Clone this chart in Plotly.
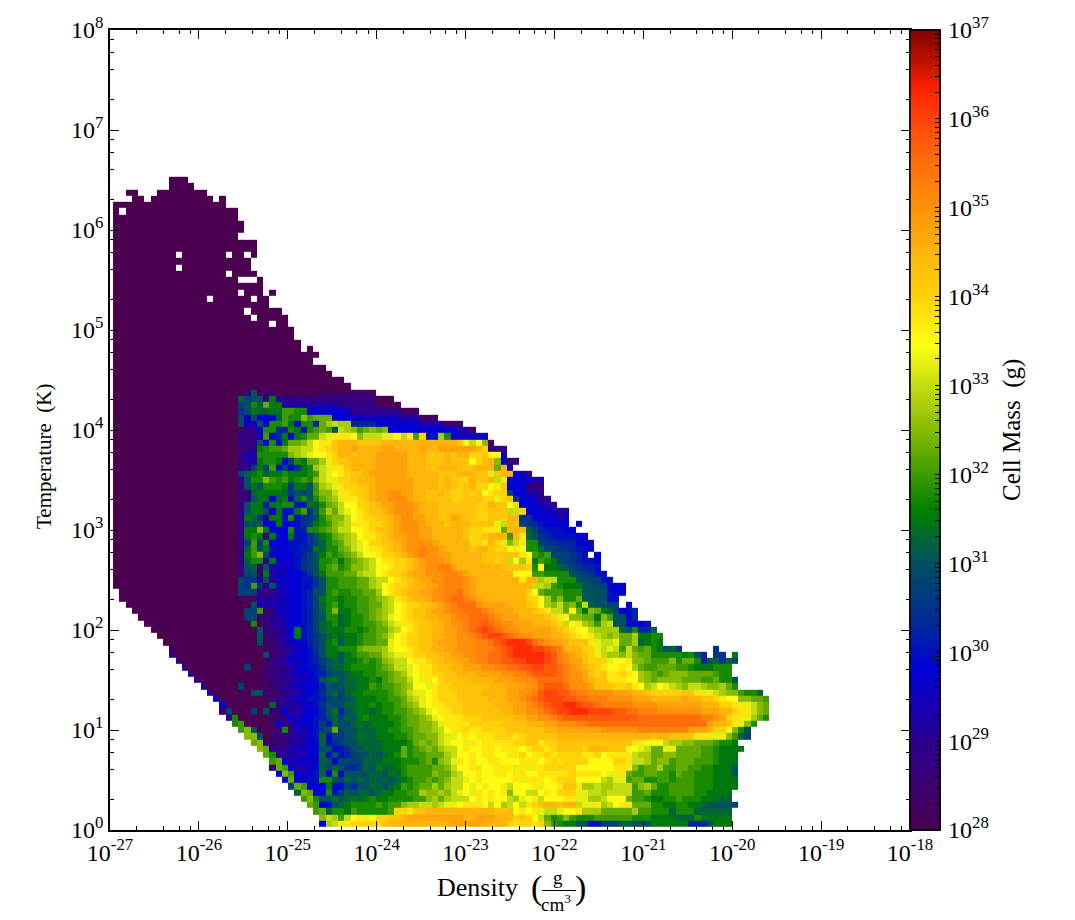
import numpy as np
import plotly.graph_objects as go

# Level code: one character per cell, base 36, each step = 0.25 dex above 1e28 g. '.' = empty bin.
LEVEL_CHARS = "0123456789abcdefghijklmnopqrstuvwxyz"
LEVEL_BASE = 28.0
LEVEL_STEP = 0.25

# rows are listed from the top of the populated area (row index t) downward
# upper rows: only the darkest level, given as inclusive column spans
UPPER_SPANS = [
    "9-11", "9-12", "2-3,7-14", "3-4,6-15,17", "0-17", "0,2-19", "0-19", "0-20", "0-20", "0-19",
    "0-22", "0-22", "0-9,11-17,19-20,22", "0-21", "0-9,11-21", "0-17,19-22", "0-19,23", "0-23",
    "0-19,21-23,25", "0-14,16-21,23-24", "0-24", "0-20,22-26", "0-21,23-27", "0-24,26-27",
    "0-28", "0-28", "0-29", "0-29,31", "0-32", "0-31", "0-33", "0-34", "0-36", "0-37",
]

# lower rows: first populated column of each row (rows 34..103), darkest level up to column 20
LOWER_START = [0]*32 + [1, 1, 2, 3, 4, 5, 6, 7, 8, 9, 9, 10, 11, 12, 13, 14, 15, 16, 17, 17, 18, 19] + [20]*16

# lower rows: levels from column 20 onward, in blocks of ten columns
LOWER_ROWS = [
    "02c0220000 1001111112 11",
    "dbcc3e4443 3333333333 33000",
    "bcfdhee555 5555553333 330000",
    "aceddeeggf f777777644 444444111",
    "b6c777dgff ighhh77766 6666665551 11",
    "c66c7ffge8 ff9hjkjj99 9977777775 555111",
    "2347ff99fe 8fghgckjig hihi777777 77777551",
    "3336g89e7e fhhklnnnmi kkkllmkngo 88jf766666",
    "333c7f8ehh ikmnnpqqqp pppqqqqqqq qqqqqpmkmi 2",
    "223efgghjj kkmnopqqrq qqqrrqqqqr qqrrrrrrqo 333",
    "365fffffij klmmnoqqpq qqrrrrrqqq pppqpqqoop mm7",
    "355effe7bf ehhjloppqq qqrrrrrqqq pppqpppmop qi722",
    "33bebg8b8a efjklnnpqq qqrrrrrqqq ppqqqpppqq qhq6",
    "bdefdeefee efgklmnopp qrrrrrrqqq qqpppqqqpp lpqq763",
    "3cffigfgef gfiklloopq qqrrrrrrqq qqpqpooqpp qkl877755",
    "3cecfffeae ecgjklnoop pqrrrrrrqq qqpqpopqoo mnp777333",
    "33deeeedac bcgiiknnoo pqrrssrrqq ppqpoopopm noob77553",
    "23cee7de8d fcfhijlnno pqrrsssrqq ppppoopppo olopa77644",
    "3cee8eeff8 8edfhikmmo opqrrsssrq qqppppppoo qppmo77765 4",
    "3ceec6e88e gadgjhklmn oppqrsssrq qqppppppoo pppkko7776 654",
    "4eda4ee8f8 aacfhiikmn ooppqrssrr qqpprqppoo ppoqqaa777 747",
    "3ccd77e778 abefgijknn noopqrsssr qqqpqqqppp plkqpba987 777.7",
    "3eeie777f8 9ffghikkmm noppqrsssr rqqqqqpoon nnhqqqdb98 8877",
    "3efe3e77e8 8acefhijkm nnopqrrssr rqqqqqpoop qqqgqndca9 888876",
    "3bgbf77788 8abdfghjkl mooppqrsss srqqqqqoon qoliknffba a999766",
    "3dgce87788 99edffhikl mnnopqrsst ssrqqqqpqq poomnmffdb baa9887",
    "3egic67778 9bcegfghik mmnoopqrst ssrrqqqqqp pppppnmgfg bbba98.7",
    "3dff4e6768 abcffgeghi jkmnnoopqr sssrqqqqqp popkmjnegf ebba9887",
    "3cd2c56678 abcfghfgii jkmmnoopqr ssttrqqqqq qqppppofme edcba998",
    "1bc2e56677 8aceggghhj kkmnoopqrr sssttsrqqq qqqqmmmggf fffcbba88",
    "baa4c46777 88acffgggh hjkkmnopqr rsstttsrqq qqqqqnqqjk kfffccbb88",
    "baga4c6677 88acffgggh hjkmnoopqq rrstttsrqq qqqqqqqkkj gfeeeccbb7 77",
    "bbb3345677 89ccfgffgg hhjmnopqqr rssttusrqq qqqqqqomhg ggfffcccc8 77",
    "1115556677 89beffeffg ghijknopqq rsstuutsrq qqqqqqoomj giffhdccc8 8",
    "00c5556677 89bdfgeffg ghhjkmnoop pqrstuuusr rrrqqqpomj ikhifkdccb b.7",
    "0bbg336677 89bdfieefg ghijkmnopp qrrsttuuut srrrqqqpon kkhmheihed b789",
    "0bb2345677 89bcffdeff ghijlmnopp qqrrsttuuu tsrrrqqqqp onmiihheig cc79",
    "00f1245577 89bdefdeff gghiklnnop pqqrsstuuv utssrrrqqq pokmnjigjk cc8778",
    "000c23457e 89bdeeeffe fghhjkmnop pqqrrstuvw vutssrrrrr qponmmkjjj jdcf99d",
    "000c23457e 89acdedeef gghikmnoop pqqrrsstuv wwvutssrrr qqponmnkji jhhjeeff",
    "000c124567 79acefceef gghhlmnoop pqrrrssstt uvwxxxwuts rrqpppnlkk lhhjdefe",
    "0000123456 78aceefffh iiijlmmnop pqqrrssstt tuvwxxxwwv utqqqoolkl kgkhghfecd a.....a",
    "0000c23457 789ceecefg ghhjkllnoo ppqqrrsstt uuvwxxxxxw vtsrqponkj jikihhffff fefc9.aa.e",
    "0000134576 789bcdceef gfgijkkmnn oppqqrrstt uuvvwwxxxw vtsrrpoool mmniihgggi fhhf9cdadb",
    "0b00233456 788acddeff ffghikklmn noppqqrrrs sttuuvvwwv vutsrqponm mnmjhgghhh ggfeeefff",
    "0000233456 6789bccdee ffgghijlmn nooppqqqrr rrssttuvvv vutssrpopn nonmjihghi iihhhhgff",
    "0000223446 678cdecdde efeghiikml nmoppppqqq qrrrssstuu uutssrqppn nnmmjihiii ihhhgghffc",
    "b001023456 7779cbcdde egfgghijmm lnoopppppp qqqrrrssuv vvusssrppp oopnmjkmlk jikkjiijhf",
    "00cc312445 678acdbdee ffffghikll mnoooppppq qqqrrsstvw wvvuttssss rrrqqpoooo oppnlnkjii gffd",
    "1000123456 7889bcbcde eeffgghjkl mnoooppppp qqqrrstuvw wwvvuuttts sssrrrqqqq qrqqpponmm iihhg",
    "00000d3455 678acbcdde efeffghijl mnnooopppp pqqqrrstuv wwxxwvvutt tttssssrrr rrrrqqqoon nlkih",
    "00b0c23745 6779ce9cde edeffgghij lmnnoopppp ppqqrrsstu vwwxxxwwww vvuutttsss ssssrrrqqo nnkih",
    "0000113475 7789bdbdce feeeffghhi jlmnnnooop ppppqqrrss tuvvvvvvvv vvvvuuuuuu uuuuttsron nljhf",
    "g000027446 778b8dcbde deeeefghhi ijlnnnnooo ooppppqqqr rsssttuuuu uuuuuuuuuu uuuuurqqpn lif",
    "gic0013f27 478bchbccd ddeeffgghi ijkmnnonno oooppppppq qrrrrrrrss sssstttttt ttrrrqoomi fc",
    ".iic022345 578d8bacce ddeeeffghh iikllmnmnn nooonopppp pqqqqqqqqq qqqqqqpqqp pppnnlllig db",
    "..hi222345 577d89bccd dddeeeefhi hiklmmlnmn nnnnooppno oppppppppp pppnnmmmkj jiihhhgffe",
    "...ih43456 677cc88acc dddeeehfgh ihjkkmnmmn nmnnnmnoon oppppoqqqp ppmmlkhhll hhhhggfeee e",
    "....hf4455 577d8c89bc cdcdefhfgg hhhjkmmnmn nmmnnomnno noooonnomn nnnkjjhhii hhhhggfeee",
    ".....gh756 767dc7bbbb dddeeefffg hfijlnmnmm nnmmmnnnmn onoooommmm oonkkjhiig hhhgggfeee",
    ".....3hg75 567dbdca9b dceddefggg ghhikmmnlm mnnnlnlnno oooommmmmm nnnighhjgg hhggffeeec",
    "......7ig7 678d7f6ccc cddcedfggg gihhjkmmnm mnnmnnmmnn nnnonnnnml lnhgghhggf hggfffeeec",
    ".......8h7 788ffcbdcd cdcdcdefgg hghikklmnm mmmmnlnnnm nooommmmkj llghhffggf gggfffeeee",
    "........bh g777e88b9c cddcdegfgh hjhjkkmlmn mmlkmmmnlm mnppnjjkjj kkkgijhffg gggfffeeee",
    ".........d ih77f8bdcd dcdeeffggj iijiklmlnm nmnimmkkmn mooollkkjk kkkgghfffg gggffeeee",
    ".......... gifccecded efeeffffgg ijhjkkkmnm nmmkjlmnkm mmnnlljjkm mmhggfeeff gfffeeedd",
    ".......... .hg78cdeff ffgfggijjk kjkllmnnnm kmjkmklopq qpqqkllnjk mnnhhhffee ffeedccccb",
    ".......... ..ghdffegf ffffgoonpp qqqqqqqqqq qppqmnmnlk klmmnjjjhh hhhjggfffd fffdddddd",
    ".......... ...ikjgkmn lmooppqrrr rrrrrrqqrr rqqqopomkh fgigfffggg gggfffeeee dddfeeeee",
    ".......... ...7jknnoo ooopqqqqqq qqqqrrrrrq qqqonoonoi gfeecc88bb bddccceeee ee999ceee",
]

# lighter first cell along the lower-left edge: (row, level)
EDGE_LEVELS = {75: "2", 76: "3", 77: "3", 78: "2", 79: "3", 80: "3", 81: "4", 82: "4", 83: "6", 84: "7", 85: "2", 86: "3"}
# isolated cells left of column 20: (row, column, level)
SPECKS = [(85, 18, "b"), (86, 19, "f"), (87, 19, "f")]

MASS_DECADES = list(range(28, 38))
DENSITY_DECADES = list(range(-27, -17))
TEMPERATURE_DECADES = list(range(0, 9))
MINOR_MULTIPLES = [2, 4, 6, 8]

COLOR_STOPS = [
    (28.0, "#4b0050"), (29.0, "#2b0090"), (29.8, "#0000d8"), (30.3, "#00289c"), (31.0, "#005060"),
    (31.6, "#008000"), (32.0, "#3d9a00"), (32.5, "#88bb00"), (33.0, "#c4dd10"), (33.45, "#ffff14"),
    (34.0, "#ffd20a"), (34.5, "#ffb40a"), (35.0, "#ff910a"), (35.5, "#ff6e0a"), (36.0, "#ff430a"),
    (36.35, "#ff2000"), (36.6, "#c81200"), (37.0, "#800000"),
]

NROWS = 104
NCOLS = 108
grid = [[None]*NCOLS for _ in range(NROWS)]
for t, spans in enumerate(UPPER_SPANS):
    for span in spans.split(","):
        a, _, b = span.partition("-")
        for c in range(int(a), int(b or a)+1):
            grid[t][c] = LEVEL_BASE
for i, row in enumerate(LOWER_ROWS):
    t = 34 + i
    for c in range(LOWER_START[i], 20):
        grid[t][c] = LEVEL_BASE
    for j, ch in enumerate(row.replace(" ", "")):
        if ch != ".":
            grid[t][20+j] = LEVEL_BASE + LEVEL_STEP*LEVEL_CHARS.index(ch)
    if t in EDGE_LEVELS:
        grid[t][LOWER_START[i]] = LEVEL_BASE + LEVEL_STEP*LEVEL_CHARS.index(EDGE_LEVELS[t])
for t, c, ch in SPECKS:
    grid[t][c] = LEVEL_BASE + LEVEL_STEP*LEVEL_CHARS.index(ch)

z = grid[::-1]  # bottom row first

BIN_X = 9/128
BIN_Y = 8/128
x_edges = 10.0**(-27 + 0.48*BIN_X + BIN_X*np.arange(NCOLS+1))
y_edges = 10.0**(0.51*BIN_Y + BIN_Y*np.arange(NROWS+1))

colorscale = [[(v-28)/9, c] for v, c in COLOR_STOPS]
serif = "Liberation Serif"

cb_common = dict(
    x=1.0, xanchor="left", xpad=0, y=0, yanchor="bottom", ypad=0, len=1, lenmode="fraction",
    thickness=30, thicknessmode="pixels", outlinecolor="black", outlinewidth=1.5,
)
# every decade plus its 2..9 multiples, as tick marks inside the bar
cb_marks = [d + np.log10(m) for d in MASS_DECADES[:-1] for m in range(1, 10)] + [MASS_DECADES[-1]]

fig = go.Figure()
# labelled colour bar
fig.add_trace(go.Heatmap(
    x=x_edges, y=y_edges, z=z, zmin=28, zmax=37, colorscale=colorscale, hoverongaps=False,
    colorbar=dict(
        tickmode="array", tickvals=MASS_DECADES, ticktext=[f"10<sup>{d}</sup>" for d in MASS_DECADES],
        ticks="outside", ticklen=3, tickcolor="rgba(0,0,0,0)",
        tickfont=dict(family=serif, size=24, color="black"), **cb_common,
    ),
))
# unlabelled overlay of the bar that carries the inside tick marks; its two cells lie off the axes
fig.add_trace(go.Heatmap(
    x=[1e-30, 1e-29, 1e-28], y=[1e-3, 1e-2], z=[[28, 37]], zmin=28, zmax=37, colorscale=colorscale,
    hoverinfo="skip",
    colorbar=dict(
        tickmode="array", tickvals=cb_marks, showticklabels=False, ticks="inside", ticklen=5,
        tickcolor="black", tickwidth=1, **cb_common,
    ),
))


def minors(decades):
    return [m*10.0**d for d in decades[:-1] for m in MINOR_MULTIPLES]


axis_common = dict(
    type="log", showgrid=False, zeroline=False, showline=True, linecolor="black", linewidth=1.5,
    mirror="allticks", ticks="inside", ticklen=9, tickwidth=1, tickcolor="black", tickmode="array",
    tickfont=dict(family=serif, size=24, color="black"),
)
fig.update_xaxes(
    range=[-27, -18],
    tickvals=[10.0**d for d in DENSITY_DECADES],
    ticktext=[f"10<sup>{d}</sup>" for d in DENSITY_DECADES],
    minor=dict(ticks="inside", ticklen=4, tickwidth=1, tickcolor="black", tickvals=minors(DENSITY_DECADES), showgrid=False),
    **axis_common,
)
fig.update_yaxes(
    range=[0, 8],
    tickvals=[10.0**d for d in TEMPERATURE_DECADES],
    ticktext=[f"10<sup>{d}</sup>" for d in TEMPERATURE_DECADES],
    minor=dict(ticks="inside", ticklen=4, tickwidth=1, tickcolor="black", tickvals=minors(TEMPERATURE_DECADES), showgrid=False),
    **axis_common,
)


def px(x):
    return (x-110)/800


def py(y):
    return (830-y)/800


notes = [
    ("Density", 477.5, 887, 26, 0),
    ("(", 536, 888, 34, 0),
    ("g", 558, 877, 19, 0),
    ("cm<sup>3</sup>", 556, 903, 19, 0),
    (")", 580, 888, 34, 0),
    ("Temperature  (K)", 44, 457, 21, -90),
    ("Cell Mass  (g)", 1012, 430, 25, -90),
]
annotations = [
    dict(text=t, x=px(x), y=py(y), xref="paper", yref="paper", showarrow=False, xanchor="center", yanchor="middle",
         textangle=a, font=dict(family=serif, size=s, color="black"))
    for t, x, y, s, a in notes
]
fig.update_layout(
    width=1075, height=920, autosize=False,
    margin=dict(l=110, r=165, t=30, b=90, pad=0),
    plot_bgcolor="white", paper_bgcolor="white",
    annotations=annotations,
    shapes=[dict(type="line", xref="paper", yref="paper", x0=px(542), x1=px(576), y0=py(890.5), y1=py(890.5),
                 line=dict(color="black", width=1))],
)
fig.write_html("out.html", post_script="document.body.style.margin='0';", config={"displayModeBar": False})
